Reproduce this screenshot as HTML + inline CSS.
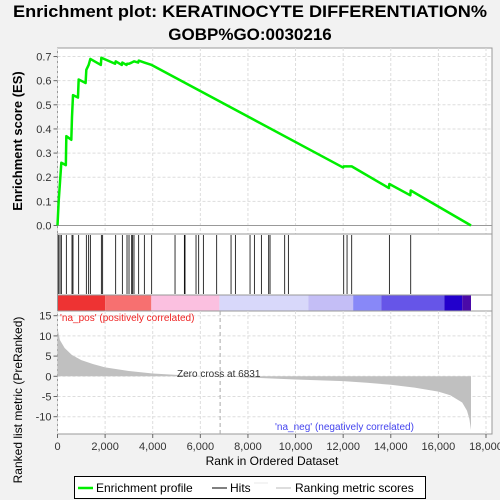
<!DOCTYPE html>
<html><head><meta charset="utf-8"><style>
body{margin:0;background:#f2f2f2;}
svg{display:block;font-family:"Liberation Sans","DejaVu Sans",sans-serif;}
</style></head><body>
<svg id="chart" width="500" height="500">
<rect width="500" height="500" fill="#f2f2f2"/>
<text x="250" y="17" text-anchor="middle" font-weight="bold" font-size="17" textLength="474" lengthAdjust="spacingAndGlyphs">Enrichment plot: KERATINOCYTE DIFFERENTIATION%</text>
<text x="250" y="40" text-anchor="middle" font-weight="bold" font-size="17">GOBP%GO:0030216</text>
<g id="gtop"></g>
<g id="ghits"></g>
<g id="gbar"></g>
<g id="gbottom"></g>
<text transform="translate(22,141) rotate(-90)" text-anchor="middle" font-weight="bold" font-size="13">Enrichment score (ES)</text>
<text transform="translate(22,400) rotate(-90)" text-anchor="middle" font-size="12">Ranked list metric (PreRanked)</text>
<text x="272" y="465" text-anchor="middle" font-size="12">Rank in Ordered Dataset</text>
<g>
<rect x="74.5" y="476.5" width="351" height="22" fill="#fff" stroke="#000"/>
<line x1="78" y1="488" x2="93" y2="488" stroke="#00ee00" stroke-width="2.5"/>
<text x="96" y="492" font-size="12">Enrichment profile</text>
<line x1="212" y1="488" x2="227" y2="488" stroke="#000"/>
<text x="230" y="492" font-size="12">Hits</text>
<line x1="254" y1="483" x2="268" y2="483" stroke="#e8e8e8"/>
<line x1="276" y1="488" x2="291" y2="488" stroke="#bbb"/>
<text x="295" y="492" font-size="12">Ranking metric scores</text>
</g>
</svg>
<script>
const hitRanks=[49,105,161,371,609,651,889,1211,1309,1380,1842,1897,2444,2724,2920,3004,3116,3158,3214,3410,3648,3956,4937,5329,5357,5819,5931,6127,6687,7290,7472,8088,8270,8564,8872,8928,9544,9698,12023,12163,12359,13941,14838];
const esRanks=[0,49,105,161,350,371,580,609,651,860,889,1180,1211,1309,1380,1820,1842,2420,2444,2700,2724,2900,2920,3004,3116,3214,3390,3410,3648,3956,12000,12023,12163,12359,13920,13941,14820,14838,17370];
const esValues=[0,0.10,0.18,0.26,0.25,0.37,0.355,0.45,0.54,0.53,0.605,0.59,0.645,0.665,0.69,0.665,0.695,0.67,0.68,0.665,0.675,0.665,0.67,0.67,0.675,0.68,0.675,0.683,0.675,0.665,0.24,0.245,0.245,0.245,0.155,0.172,0.125,0.145,0];
const metricRanks=[0,30,100,300,600,1000,1500,2000,3000,4000,5000,6000,6831,8000,10000,12000,13000,14000,15000,16000,16500,17000,17200,17300,17370];
const metricValues=[12,11,9,7,5.3,4,3,2.2,1.3,0.7,0.35,0.1,0,-0.3,-0.8,-1.2,-1.6,-2.1,-2.8,-3.8,-4.7,-6.5,-8.5,-10.5,-13.3];
const xTicks=[0,2000,4000,6000,8000,10000,12000,14000,16000,18000];
const esTicks=[0,0.1,0.2,0.3,0.4,0.5,0.6,0.7];
const metricTicks=[15,10,5,0,-5,-10];
const barStops=[0,2000,3940,6800,10540,12420,13600,16250,17000,17370];
const barColors=['#ee3333','#f77070','#fbc0e0','#d8d8fa','#c4bef6','#8888f8','#6655e8','#2200cc','#4a0aa8'];

const NS='http://www.w3.org/2000/svg';
const L=57.5,R=492;
const xs=r=>L+r*(428.5/18000);
const yES=v=>225.5-v*241.4;
const yM=v=>376.3-v*4.04;
function mk(p,tag,a){const e=document.createElementNS(NS,tag);for(const k in a)e.setAttribute(k,a[k]);p.appendChild(e);return e;}
const gTop=document.getElementById('gtop'),gHits=document.getElementById('ghits'),gBar=document.getElementById('gbar'),gBot=document.getElementById('gbottom');
mk(gTop,'rect',{x:L,y:48,width:R-L,height:186,fill:'#fff',stroke:'#999'});
mk(gHits,'rect',{x:L,y:234,width:R-L,height:61,fill:'#fff',stroke:'#999'});
mk(gBot,'rect',{x:L,y:311,width:R-L,height:123,fill:'#fff',stroke:'#999'});
xTicks.forEach(t=>{
  const x=xs(t);
  mk(gTop,'line',{x1:x,y1:48,x2:x,y2:234,stroke:'#ddd','stroke-dasharray':'3,2'});
  mk(gBot,'line',{x1:x,y1:311,x2:x,y2:434,stroke:'#ddd','stroke-dasharray':'3,2'});
  mk(gBot,'line',{x1:x,y1:434,x2:x,y2:438,stroke:'#666'});
  const tx=mk(gBot,'text',{x:x,y:450,'text-anchor':'middle','font-size':11,fill:'#333'});
  tx.textContent=t.toLocaleString('en-US');
  
  
});
esTicks.forEach(t=>{
  const y=yES(t);
  mk(gTop,'line',{x1:L,y1:y,x2:R,y2:y,stroke:t===0?'#999':'#ddd','stroke-dasharray':t===0?'':'3,2'});
  mk(gTop,'line',{x1:L-4,y1:y,x2:L,y2:y,stroke:'#666'});
  const tx=mk(gTop,'text',{x:L-6,y:y+4,'text-anchor':'end','font-size':11,fill:'#333'});
  tx.textContent=t.toFixed(1);
  
  
});
metricTicks.forEach(t=>{
  const y=yM(t);
  mk(gBot,'line',{x1:L,y1:y,x2:R,y2:y,stroke:'#ddd','stroke-dasharray':'3,2'});
  mk(gBot,'line',{x1:L-4,y1:y,x2:L,y2:y,stroke:'#666'});
  const tx=mk(gBot,'text',{x:L-6,y:y+4,'text-anchor':'end','font-size':11,fill:'#333'});
  tx.textContent=t;
  
  
});
let d=esRanks.map((r,i)=>(i?'L':'M')+xs(r).toFixed(2)+','+yES(esValues[i]).toFixed(2)).join('');
const es=mk(gTop,'path',{d:d,fill:'none',stroke:'#00ee00','stroke-width':2.5,'stroke-linejoin':'round'});


hitRanks.forEach(r=>{
  const h=mk(gHits,'line',{x1:xs(r),y1:235,x2:xs(r),y2:294,stroke:'#000','stroke-width':0.8});
  
  
});
for(let i=0;i<barColors.length;i++){
  const b=mk(gBar,'rect',{x:xs(barStops[i]),y:295,width:xs(barStops[i+1])-xs(barStops[i]),height:16,fill:barColors[i]});
  
  
}
mk(gBar,'rect',{x:xs(17370),y:295,width:R-xs(17370),height:16,fill:'#fff'});
mk(gBar,'rect',{x:L,y:295,width:R-L,height:16,fill:'none',stroke:'#999'});
let a='M'+xs(0)+','+yM(0);
metricRanks.forEach((r,i)=>{a+='L'+xs(r).toFixed(2)+','+yM(metricValues[i]).toFixed(2);});
a+='L'+xs(17370)+','+yM(0)+'Z';
const ar=mk(gBot,'path',{d:a,fill:'#c0c0c0',stroke:'none'});


const zx=xs(6831);
mk(gBot,'line',{x1:zx,y1:311,x2:zx,y2:434,stroke:'#aaa','stroke-dasharray':'4,3'});
const zt=mk(gBot,'text',{x:177,y:377,'font-size':10,fill:'#333'});zt.textContent='Zero cross at 6831';


const pt=mk(gBot,'text',{x:60,y:321,'font-size':10,fill:'#ee2222'});pt.textContent="'na_pos' (positively correlated)";


const nt=mk(gBot,'text',{x:275,y:430,'font-size':10,fill:'#4444ee'});nt.textContent="'na_neg' (negatively correlated)";


</script>
</body></html>
